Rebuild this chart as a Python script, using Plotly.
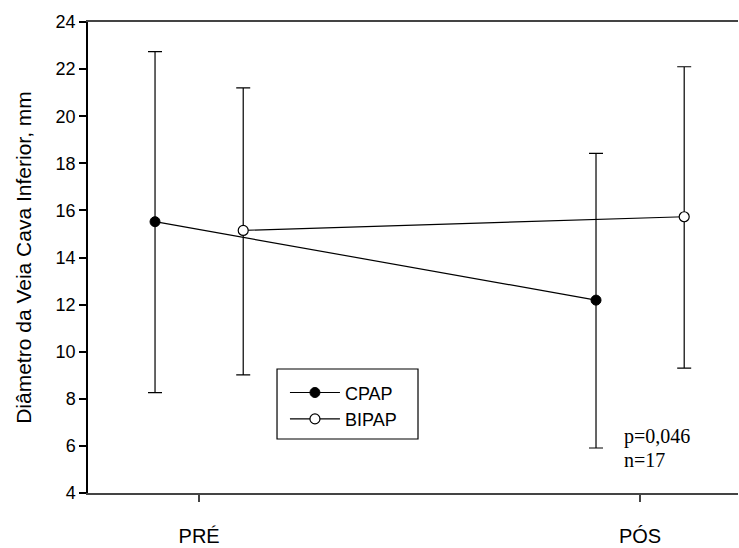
import plotly.graph_objects as go

categories = ["PRÉ", "PÓS"]
cat_pos = [1, 2]
cpap_mean = [15.52, 12.19]
cpap_upper = [22.74, 18.42]
cpap_lower = [8.26, 5.91]
bipap_mean = [15.15, 15.73]
bipap_upper = [21.2, 22.1]
bipap_lower = [9.02, 9.3]
y_ticks = [4, 6, 8, 10, 12, 14, 16, 18, 20, 22, 24]
stats_lines = ["p=0,046", "n=17"]
offset = 0.1

def err(mean, up, lo):
    return dict(type="data", symmetric=False,
                array=[u - m for u, m in zip(up, mean)],
                arrayminus=[m - l for m, l in zip(mean, lo)],
                color="black", thickness=1.2, width=7)

fig = go.Figure()
fig.add_trace(go.Scatter(
    x=[p - offset for p in cat_pos], y=cpap_mean, name="CPAP",
    mode="lines+markers",
    line=dict(color="black", width=1.2),
    marker=dict(color="black", size=10, symbol="circle", line=dict(color="black", width=1)),
    error_y=err(cpap_mean, cpap_upper, cpap_lower)))
fig.add_trace(go.Scatter(
    x=[p + offset for p in cat_pos], y=bipap_mean, name="BIPAP",
    mode="lines+markers",
    line=dict(color="black", width=1.2),
    marker=dict(color="white", size=10, symbol="circle", line=dict(color="black", width=1.2)),
    error_y=err(bipap_mean, bipap_upper, bipap_lower)))

serif = dict(family="Liberation Serif, Times New Roman, serif", size=20, color="black")
for txt, yy in zip(stats_lines, [0.1189, 0.0701]):
    fig.add_annotation(x=0.822, y=yy, xref="paper", yref="paper", xanchor="left", yanchor="middle",
                       text=txt, showarrow=False, font=serif)

# legend frame
fig.add_shape(type="rect", xref="paper", yref="paper",
              x0=0.2908, x1=0.5077, y0=0.1146, y1=0.2633,
              line=dict(color="black", width=1.2), fillcolor="rgba(0,0,0,0)")

fig.update_layout(
    width=739, height=548,
    margin=dict(l=88, r=1, t=22, b=55),
    paper_bgcolor="white", plot_bgcolor="white",
    font=dict(family="Liberation Sans, Arial, sans-serif", size=18, color="black"),
    showlegend=True,
    legend=dict(x=0.303, y=0.252, xanchor="left", yanchor="top",
                borderwidth=0, bgcolor="rgba(0,0,0,0)",
                font=dict(size=18), itemwidth=50, tracegroupgap=0),
    xaxis=dict(range=[0.748, 2.222], tickvals=cat_pos, ticktext=categories,
               showgrid=False, zeroline=False, showline=True, linecolor="#444", linewidth=2,
               mirror=True, ticks="outside", ticklen=7, tickcolor="#444", tickwidth=1.5,
               ticklabelstandoff=17, tickfont=dict(size=20), automargin=False),
    yaxis=dict(range=[4, 24], tickvals=y_ticks, showgrid=False, zeroline=False,
               showline=True, linecolor="black", linewidth=1.5,
               ticks="outside", ticklen=7, tickcolor="black", tickwidth=1.5,
               tickfont=dict(size=18), automargin=False,
               title=dict(text="Diâmetro da Veia Cava Inferior, mm", font=dict(size=21), standoff=18)),
)

fig.write_html("out.html")
